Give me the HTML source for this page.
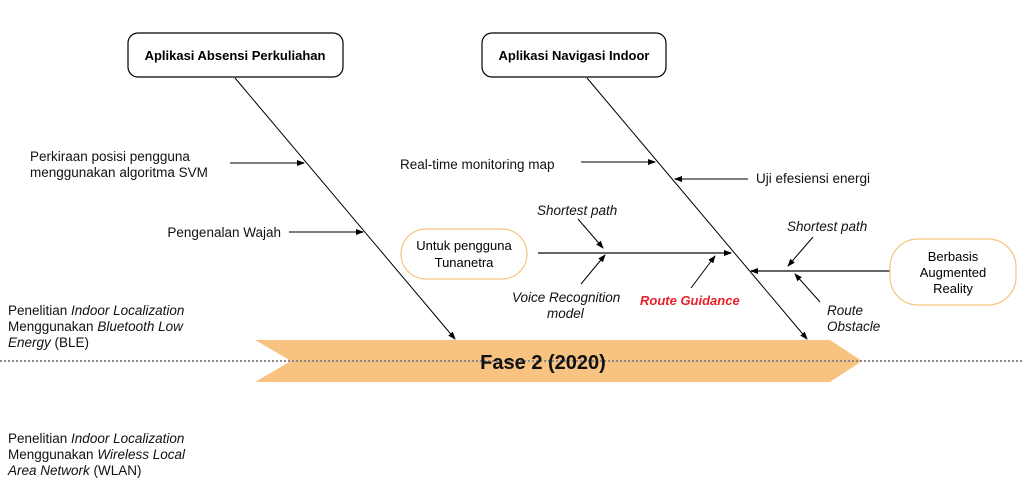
<!DOCTYPE html>
<html><head><meta charset="utf-8"><style>
body{margin:0;background:#fff;}
svg{display:block;font-family:"Liberation Sans",sans-serif;}
</style></head><body>
<svg width="1024" height="491" viewBox="0 0 1024 491">
<defs><marker id="a" markerWidth="8" markerHeight="8" refX="7" refY="4" orient="auto" markerUnits="userSpaceOnUse"><path d="M0,1 L8,4 L0,7z" fill="#000"/></marker></defs>
<polygon points="255,340 830,340 862,361 830,382 255,382 291,361" fill="#f8c380"/>
<line x1="0" y1="361" x2="1024" y2="361" stroke="#888" stroke-width="2" stroke-dasharray="2,2"/>
<text x="543" y="369" font-size="20" font-weight="bold" text-anchor="middle" fill="#111">Fase 2 (2020)</text>
<rect x="128" y="33" width="215" height="44" rx="10" fill="#fff" stroke="#000" stroke-width="1.2"/>
<text x="235" y="60" font-size="13" font-weight="bold" text-anchor="middle">Aplikasi Absensi Perkuliahan</text>
<rect x="482" y="33" width="184" height="44" rx="10" fill="#fff" stroke="#000" stroke-width="1.2"/>
<text x="574" y="60" font-size="13" font-weight="bold" text-anchor="middle">Aplikasi Navigasi Indoor</text>
<g stroke="#000" stroke-width="1" fill="none" marker-end="url(#a)">
<line x1="235" y1="78" x2="455" y2="339"/>
<line x1="587" y1="78" x2="807" y2="339"/>
<line x1="578" y1="219" x2="603" y2="248"/>
<line x1="581" y1="284" x2="605" y2="255"/>
<line x1="691" y1="288" x2="715" y2="256"/>
<line x1="813" y1="237" x2="788" y2="266"/>
<line x1="820" y1="302" x2="795" y2="274"/>
</g>
<g stroke="#555" stroke-width="1.4" fill="none" marker-end="url(#a)">
<line x1="230" y1="163" x2="304" y2="163"/>
<line x1="289" y1="232" x2="363" y2="232"/>
<line x1="581" y1="162" x2="655" y2="162"/>
<line x1="748" y1="179" x2="675" y2="179"/>
</g>
<line x1="538" y1="253" x2="731" y2="253" stroke="#666" stroke-width="2" marker-end="url(#a)"/>
<line x1="890" y1="271" x2="751" y2="271" stroke="#666" stroke-width="2" marker-end="url(#a)"/>
<rect x="401" y="229" width="126" height="50" rx="25" fill="#fff" stroke="#f8c380" stroke-width="1.2"/>
<text x="464" y="250" font-size="13" text-anchor="middle">Untuk pengguna</text>
<text x="464" y="267" font-size="13" text-anchor="middle">Tunanetra</text>
<rect x="890" y="239" width="126" height="66" rx="28" fill="#fff" stroke="#f8c380" stroke-width="1.2"/>
<text x="953" y="261" font-size="13" text-anchor="middle">Berbasis</text>
<text x="953" y="277" font-size="13" text-anchor="middle">Augmented</text>
<text x="953" y="293" font-size="13" text-anchor="middle">Reality</text>
<g font-size="13.5" fill="#111">
<text x="30" y="161">Perkiraan posisi pengguna</text>
<text x="30" y="177">menggunakan algoritma SVM</text>
<text x="281" y="237" text-anchor="end">Pengenalan Wajah</text>
<text x="400" y="169">Real-time monitoring map</text>
<text x="756" y="183">Uji efesiensi energi</text>
<text x="537" y="215" font-style="italic">Shortest path</text>
<text x="787" y="231" font-style="italic">Shortest path</text>
<text x="512" y="302" font-style="italic">Voice Recognition</text>
<text x="547" y="318" font-style="italic">model</text>
<text x="640" y="305" font-style="italic" font-weight="bold" fill="#e8202a" font-size="13">Route Guidance</text>
<text x="827" y="315" font-style="italic">Route</text>
<text x="827" y="331" font-style="italic">Obstacle</text>
<text x="8" y="315">Penelitian <tspan font-style="italic">Indoor Localization</tspan></text>
<text x="8" y="331">Menggunakan <tspan font-style="italic">Bluetooth Low</tspan></text>
<text x="8" y="347"><tspan font-style="italic">Energy</tspan> (BLE)</text>
<text x="8" y="443">Penelitian <tspan font-style="italic">Indoor Localization</tspan></text>
<text x="8" y="459">Menggunakan <tspan font-style="italic">Wireless Local</tspan></text>
<text x="8" y="475"><tspan font-style="italic">Area Network</tspan> (WLAN)</text>
</g>
</svg>
</body></html>
